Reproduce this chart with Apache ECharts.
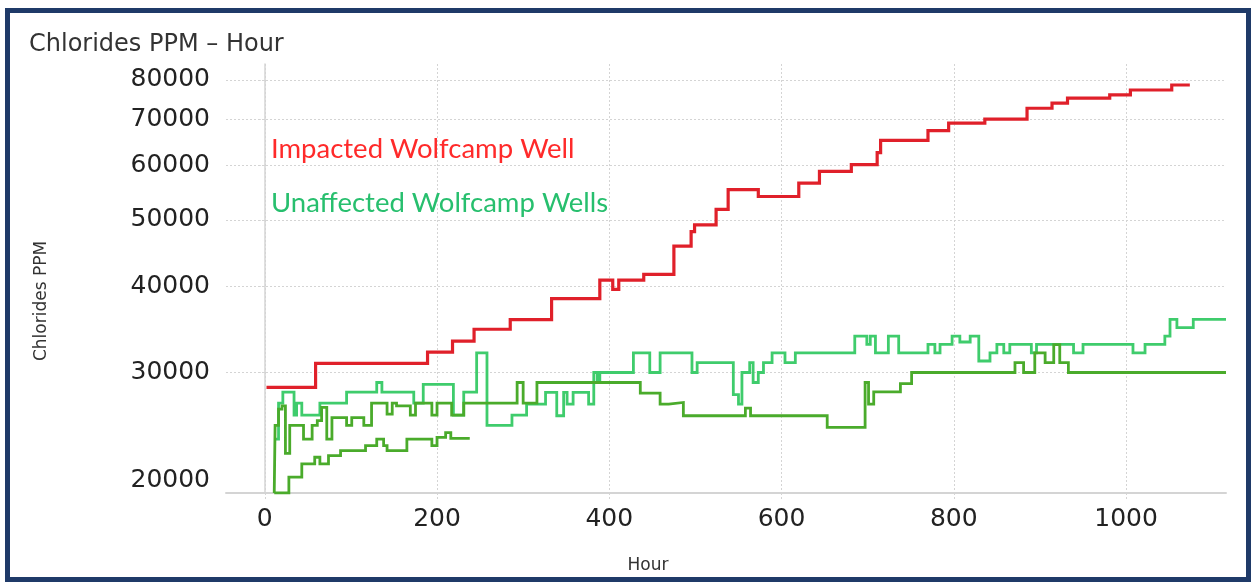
<!DOCTYPE html>
<html>
<head>
<meta charset="utf-8">
<script src="https://cdn.jsdelivr.net/npm/echarts@6/dist/echarts.min.js"></script>
<style>
  html, body { margin: 0; padding: 0; background: #ffffff; }
  #chart { width: 1251px; height: 582px; }
</style>
</head>
<body>
<div id="chart"></div>
<script>
// Tick values for both axes
const hourTicks = [0, 200, 400, 600, 800, 1000];
const ppmTicks = [20000, 30000, 40000, 50000, 60000, 70000, 80000];

// Chloride readings [hour, ppm]; each value holds until the next reading
const impactedWell = [
  [2, 28500], [59, 30900], [189, 32100], [218, 33300], [243, 34650], [285, 35800],
  [333, 38400], [389, 40850], [404, 39600], [411, 40850], [440, 41650], [475, 45800],
  [495, 48100], [499, 49200], [524, 51800], [538, 55350], [573, 54100], [620, 56600],
  [644, 58850], [681, 60200], [711, 62700], [715, 65300], [770, 67500], [794, 69200],
  [836, 70150], [885, 72750], [914, 74000], [932, 75250], [981, 76100], [1005, 77350],
  [1053, 78650], [1074, 78650]
];

const unaffectedWellA = [
  [13, 23970], [16, 27050], [21, 28060], [34, 25970], [37, 27050], [43, 25970],
  [64, 27050], [95, 28060], [130, 28980], [136, 28060], [173, 27050], [184, 28800],
  [219, 25970], [231, 28060], [246, 32000], [258, 25100], [287, 25970], [304, 26950],
  [326, 28030], [339, 25920], [347, 28030], [351, 26950], [358, 28030], [376, 26950],
  [382, 29970], [386, 28980], [389, 29970], [428, 32000], [447, 29970], [459, 32000],
  [496, 29970], [502, 30970], [544, 27830], [550, 26950], [554, 29970], [563, 30970],
  [567, 28980], [573, 29970], [579, 30970], [589, 32000], [604, 30970], [616, 32000],
  [685, 33870], [699, 32940], [703, 33870], [709, 32000], [724, 33870], [736, 32000],
  [770, 32940], [778, 32000], [784, 32940], [798, 33870], [807, 33200], [819, 33870],
  [829, 31150], [842, 32000], [850, 32940], [858, 32000], [865, 32940], [890, 32000],
  [896, 32940], [939, 32000], [950, 32940], [1008, 32000], [1022, 32940], [1045, 33870],
  [1051, 35820], [1059, 34840], [1078, 35820], [1116, 35820]
];

const unaffectedWellB = [
  [11, 20000], [12, 25100], [16, 26500], [20, 26800], [24, 22850], [29, 25100],
  [45, 23970], [55, 25100], [61, 25500], [66, 26650], [72, 23970], [78, 25750],
  [95, 25100], [101, 25750], [115, 25100], [124, 27050], [142, 26060], [148, 27050],
  [153, 26800], [169, 25970], [175, 27050], [194, 25970], [200, 27050], [217, 25970],
  [231, 27050], [293, 28980], [300, 27050], [316, 28980], [436, 27960], [459, 26950],
  [469, 27100], [486, 25920], [558, 26600], [564, 25920], [653, 24930], [697, 28980],
  [701, 26950], [707, 28080], [738, 28880], [751, 29970], [871, 30970], [881, 29970],
  [894, 32000], [906, 30970], [916, 32900], [923, 30970], [933, 29970], [1116, 29970]
];

const unaffectedWellC = [
  [11, 20000], [28, 21090], [43, 22050], [58, 22550], [64, 22050], [74, 22670],
  [88, 23050], [117, 23440], [130, 23970], [138, 23440], [142, 23050], [165, 23970],
  [194, 23440], [200, 24100], [210, 24500], [216, 24020], [238, 24020]
];

const RED = '#e0202a';
const LIGHT_GREEN = '#3fcc6c';
const DARK_GREEN = '#4aab2b';
const GRID_GRAY = '#d4d4d4';
const LABEL_FONT = 'DejaVu Sans';

function stepSeries(name, data, color, width, z) {
  return {
    name: name,
    type: 'line',
    step: 'end',
    data: data,
    symbol: 'none',
    z: z,
    lineStyle: { color: color, width: width, join: 'miter', cap: 'butt' }
  };
}

const chart = echarts.init(document.getElementById('chart'), null, { renderer: 'canvas' });

chart.setOption({
  backgroundColor: '#ffffff',
  animation: false,
  grid: { left: 226, right: 25, top: 64, bottom: 89 },
  xAxis: {
    type: 'value',
    min: -45,
    max: 1116,
    axisLine: { show: true, lineStyle: { color: GRID_GRAY, width: 2 } },
    axisTick: { show: true, length: 7, customValues: hourTicks,
                lineStyle: { color: GRID_GRAY, width: 1, type: [2, 2] } },
    axisLabel: { customValues: hourTicks, margin: 14, color: '#222222',
                 fontFamily: LABEL_FONT, fontSize: 25,
                 formatter: function (v) { return String(v); } },
    splitLine: { show: true, lineStyle: { color: GRID_GRAY, width: 1, type: [2, 2] } }
  },
  yAxis: {
    type: 'log',
    logBase: 10,
    min: 20000,
    max: 84400,
    axisLine: { show: true, lineStyle: { color: GRID_GRAY, width: 1.5 } },
    axisTick: { show: true, length: 8, customValues: ppmTicks,
                lineStyle: { color: GRID_GRAY, width: 1, type: [2, 2] } },
    axisLabel: {
      customValues: ppmTicks,
      margin: 16,
      color: '#222222',
      fontFamily: LABEL_FONT,
      fontSize: 25,
      formatter: function (v) {
        return v === ppmTicks[0] ? '{low|' + v + '}' : String(v);
      },
      rich: {
        low: { padding: [0, 0, 26, 0], color: '#222222', fontFamily: LABEL_FONT, fontSize: 25 }
      }
    },
    splitLine: { show: true, lineStyle: { color: GRID_GRAY, width: 1, type: [2, 2] } }
  },
  series: [
    stepSeries('Unaffected Wolfcamp Well A', unaffectedWellA, LIGHT_GREEN, 2.8, 2),
    stepSeries('Unaffected Wolfcamp Well B', unaffectedWellB, DARK_GREEN, 2.8, 3),
    stepSeries('Unaffected Wolfcamp Well C', unaffectedWellC, DARK_GREEN, 2.8, 3),
    stepSeries('Impacted Wolfcamp Well', impactedWell, RED, 3.2, 4)
  ],
  graphic: [
    {
      type: 'rect', silent: true, z: 100,
      shape: { x: 7.5, y: 10.5, width: 1241, height: 569 },
      style: { fill: null, stroke: '#1f3a68', lineWidth: 5 }
    },
    {
      type: 'text', left: 29, top: 33, z: 50,
      style: { text: 'Chlorides PPM \u2013 Hour', fill: '#333333',
               font: '24px "DejaVu Sans"' }
    },
    {
      type: 'text', x: 42, y: 301, rotation: Math.PI / 2, z: 50,
      style: { text: 'Chlorides PPM', fill: '#333333', font: '17px "DejaVu Sans"',
               align: 'center', verticalAlign: 'middle' }
    },
    {
      type: 'text', x: 648, y: 566, z: 50,
      style: { text: 'Hour', fill: '#333333', font: '17px "DejaVu Sans"',
               align: 'center', verticalAlign: 'middle' }
    },
    {
      type: 'text', x: 271, y: 149, z: 50,
      style: { text: 'Impacted Wolfcamp Well', fill: '#ff2a2a', font: '27.5px Lato',
               align: 'left', verticalAlign: 'middle' }
    },
    {
      type: 'text', x: 271, y: 203, z: 50,
      style: { text: 'Unaffected Wolfcamp Wells', fill: '#27bf6e', font: '27.5px Lato',
               align: 'left', verticalAlign: 'middle' }
    }
  ]
});
</script>
</body>
</html>
